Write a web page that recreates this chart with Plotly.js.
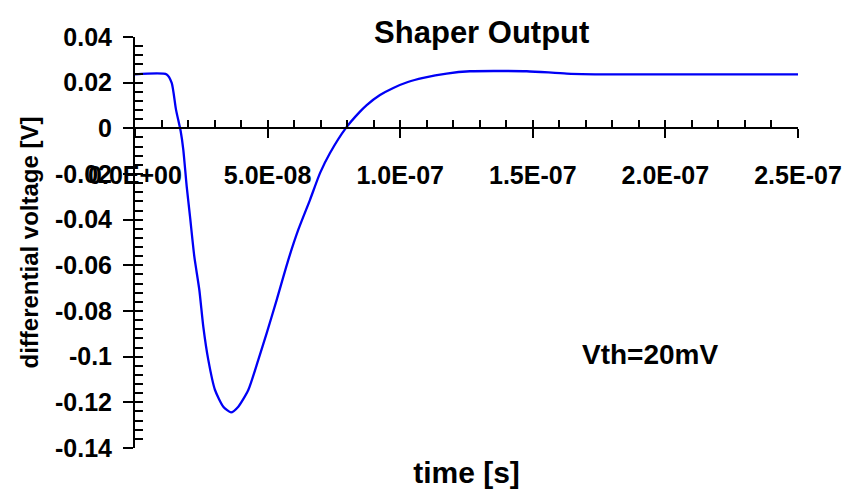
<!DOCTYPE html>
<html>
<head>
<meta charset="utf-8">
<script src="https://cdn.plot.ly/plotly-3.0.1.min.js"></script>
<style>
html,body{margin:0;padding:0;background:#fff;}
#chart{width:843px;height:491px;}
</style>
</head>
<body>
<div id="chart"></div>
<script>
// Data (time in seconds, voltage in volts)
var timeS = [0, 11.95e-9, 13.84e-9, 15.46e-9, 17.23e-9, 18.21e-9, 19.49e-9, 20.74e-9, 22.36e-9,
  24.25e-9, 25.75e-9, 27.64e-9, 30.17e-9, 33.30e-9, 36.20e-9, 38.95e-9, 42.72e-9, 46.49e-9,
  49.66e-9, 53.43e-9, 57.81e-9, 61.58e-9, 65.99e-9, 69.76e-9, 73.53e-9, 79.56e-9, 84.84e-9,
  87.37e-9, 92.38e-9, 97.40e-9, 102.9e-9, 108.7e-9, 117.5e-9, 126.3e-9, 147.7e-9, 162.8e-9, 182.9e-9, 250e-9];
var voltageV = [0.0236, 0.0236, 0.0199, 0.0082, -0.0013, -0.0093, -0.0254, -0.0386, -0.0561,
  -0.0707, -0.0868, -0.1014, -0.1146, -0.1219, -0.1244, -0.1219, -0.1146, -0.1014,
  -0.0897, -0.0751, -0.0576, -0.0444, -0.0313, -0.0196, -0.0108, 0.0002, 0.0073,
  0.0102, 0.0146, 0.0177, 0.0203, 0.0221, 0.0240, 0.0250, 0.0250, 0.0240, 0.0236, 0.0236];

var xTickVals = [0, 5e-8, 1e-7, 1.5e-7, 2e-7, 2.5e-7];
var xTickText = ["0.0E+00", "5.0E-08", "1.0E-07", "1.5E-07", "2.0E-07", "2.5E-07"];
var yTickVals = [0.04, 0.02, 0, -0.02, -0.04, -0.06, -0.08, -0.1, -0.12, -0.14];
var yTickText = ["0.04", "0.02", "0", "-0.02", "-0.04", "-0.06", "-0.08", "-0.1", "-0.12", "-0.14"];

var xRange = [0, 2.5e-7];
var yRange = [-0.14, 0.04];
var xMinorStep = 1e-8;
var yMinorStep = 0.004;

var chartTitle = "Shaper Output";
var xTitle = "time [s]";
var yTitle = "differential voltage [V]";
var noteText = "Vth=20mV";

var FONT = "'Liberation Sans', Arial, sans-serif";
var axisPos = (0 - yRange[0]) / (yRange[1] - yRange[0]);

var mainTrace = {
  x: timeS, y: voltageV, type: 'scatter', mode: 'lines',
  line: {color: '#0000f5', width: 2.3, shape: 'spline', smoothing: 0.6},
  xaxis: 'x', yaxis: 'y', hoverinfo: 'skip', showlegend: false
};
// invisible copies so that the overlaid tick axes get drawn
function ghost(xa, ya) {
  return {x: timeS, y: voltageV, type: 'scatter', mode: 'lines', opacity: 0,
    line: {width: 0}, xaxis: xa, yaxis: ya, hoverinfo: 'skip', showlegend: false};
}

var layout = {
  width: 843, height: 491,
  margin: {l: 135, r: 45, t: 37, b: 43, pad: 0},
  paper_bgcolor: '#fff', plot_bgcolor: 'rgba(0,0,0,0)',
  showlegend: false,
  font: {family: FONT, color: '#000'},
  title: {
    text: chartTitle, font: {family: FONT, size: 31, weight: 'bold', color: '#000'},
    xref: 'paper', x: 0.523, xanchor: 'center', yref: 'container', y: 0.935, yanchor: 'middle'
  },
  xaxis: {
    range: xRange, anchor: 'y', showline: false, showgrid: false, zeroline: false,
    ticks: '', showticklabels: false, automargin: false,
    title: {text: xTitle, font: {family: FONT, size: 30, weight: 'bold', color: '#000'}, standoff: 13}
  },
  xaxis2: {
    range: xRange, overlaying: 'x', anchor: 'free', position: axisPos,
    showline: true, linecolor: '#000', linewidth: 2, showgrid: false, zeroline: false,
    ticks: 'outside', ticklen: 9, tickwidth: 2, tickcolor: '#000',
    tickmode: 'array', tickvals: xTickVals, ticktext: xTickText,
    tickfont: {family: FONT, size: 25, weight: 'bold', color: '#000'},
    ticklabelstandoff: 16, automargin: false
  },
  xaxis3: {
    range: xRange, overlaying: 'x', anchor: 'free', position: axisPos,
    showline: false, showgrid: false, zeroline: false,
    ticks: 'inside', ticklen: 8, tickwidth: 2, tickcolor: '#000',
    tickmode: 'linear', tick0: 0, dtick: xMinorStep, showticklabels: false, automargin: false
  },
  yaxis: {
    range: yRange, anchor: 'x', showline: true, linecolor: '#000', linewidth: 2,
    showgrid: false, zeroline: false,
    ticks: 'outside', ticklen: 10, tickwidth: 2, tickcolor: '#000',
    tickmode: 'array', tickvals: yTickVals, ticktext: yTickText,
    tickfont: {family: FONT, size: 25, weight: 'bold', color: '#000'},
    ticklabelstandoff: 6, automargin: false,
    title: {text: yTitle, font: {family: FONT, size: 24, weight: 'bold', color: '#000'}, standoff: 10}
  },
  yaxis2: {
    range: yRange, overlaying: 'y', anchor: 'x', side: 'left',
    showline: false, showgrid: false, zeroline: false,
    ticks: 'inside', ticklen: 8, tickwidth: 2, tickcolor: '#000',
    tickmode: 'linear', tick0: 0, dtick: yMinorStep, showticklabels: false, automargin: false
  },
  annotations: [{
    text: noteText, xref: 'paper', yref: 'paper', x: 0.777, y: 0.227,
    xanchor: 'center', yanchor: 'middle', showarrow: false,
    font: {family: FONT, size: 28, weight: 'bold', color: '#000'}
  }]
};

Plotly.newPlot('chart', [ghost('x2', 'y'), ghost('x3', 'y'), ghost('x', 'y2'), mainTrace], layout,
  {staticPlot: true, displayModeBar: false});
</script>
</body>
</html>
